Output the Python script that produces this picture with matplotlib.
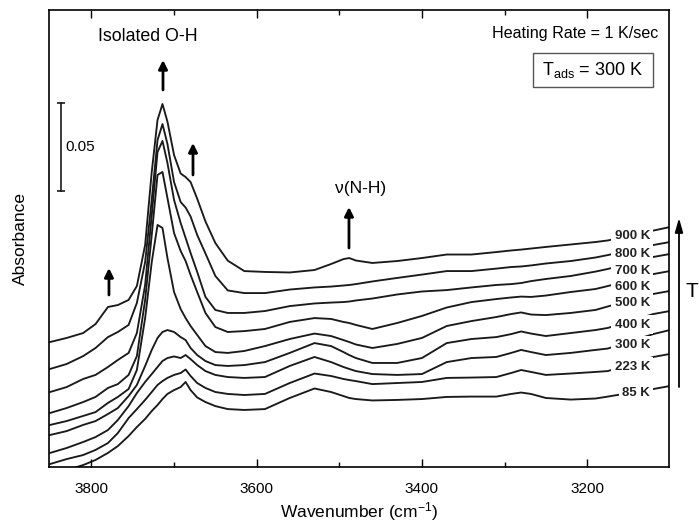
import matplotlib
matplotlib.use('Agg')
from matplotlib import pyplot as plt
from matplotlib import transforms
from matplotlib.patches import Rectangle

plt.rcParams['font.family'] = ['Liberation Sans', 'DejaVu Sans']
plt.rcParams['mathtext.fontset'] = 'custom'
plt.rcParams['mathtext.rm'] = 'Liberation Sans'
plt.rcParams['mathtext.it'] = 'Liberation Sans:italic'
plt.rcParams['mathtext.bf'] = 'Liberation Sans:bold'

# Spectra, absorbance in mAbs (curves are offset-stacked as in the figure)
wavenumber = [3850, 3830, 3810, 3795, 3780, 3768, 3755, 3745, 3735, 3727,
              3720, 3714, 3708, 3700, 3692, 3686, 3680, 3672, 3662, 3650,
              3635, 3615, 3590, 3560, 3530, 3510, 3495, 3488, 3480, 3460,
              3430, 3400, 3370, 3340, 3310, 3292, 3280, 3268, 3250, 3220,
              3190, 3175, 3120, 3100]

temps = ['85 K', '223 K', '300 K', '400 K', '500 K', '600 K', '700 K', '800 K', '900 K']

abs_85 = [-4.5, -1.7, 1.1, 4.0, 8.0, 11.9, 17.6, 22.7, 27.3, 31.8,
          35.2, 38.6, 41.5, 43.7, 45.4, 48.3, 43.7, 39.5, 36.9, 34.6,
          32.9, 32.4, 32.9, 39.2, 44.6, 42.6, 40.3, 39.2, 38.6, 37.8,
          38.1, 38.6, 39.8, 40.0, 40.0, 41.5, 42.3, 41.5, 39.2, 38.3,
          38.9, 40.0, 44.3, 46.0]
abs_223 = [1.7, 4.5, 6.8, 9.7, 13.6, 19.3, 27.8, 32.9, 38.1, 42.6,
           46.6, 48.8, 50.6, 52.3, 53.4, 55.4, 51.7, 47.7, 44.9, 42.6,
           41.5, 40.9, 41.5, 47.7, 53.1, 51.7, 50.0, 49.4, 48.8, 47.1,
           47.7, 48.3, 50.6, 50.8, 51.1, 53.4, 55.1, 54.0, 52.3, 53.1,
           54.0, 54.5, 62.5, 64.2]
abs_300 = [8.0, 10.8, 14.2, 17.0, 21.0, 26.7, 34.6, 42.0, 48.3, 52.8,
           56.8, 60.2, 61.9, 62.8, 61.9, 63.6, 61.3, 57.9, 54.5, 52.3,
           51.1, 50.6, 51.1, 57.4, 62.5, 59.6, 56.8, 55.7, 54.5, 52.8,
           52.3, 52.8, 59.6, 61.9, 62.5, 64.8, 66.5, 65.3, 63.6, 64.8,
           66.5, 67.3, 75.5, 77.8]
abs_400 = [18.2, 20.4, 23.9, 26.1, 30.1, 33.5, 40.3, 46.6, 57.4, 66.5,
           73.3, 76.7, 77.8, 76.7, 73.8, 72.1, 67.6, 63.6, 60.2, 57.9,
           57.4, 57.9, 59.6, 64.8, 70.4, 68.7, 65.3, 63.6, 61.9, 59.1,
           59.1, 61.9, 70.4, 72.7, 73.8, 75.5, 77.0, 75.8, 74.4, 76.1,
           77.8, 79.0, 86.9, 88.6]
abs_500 = [23.9, 26.1, 29.0, 31.2, 36.4, 39.8, 44.3, 55.1, 84.6, 116.4,
           137.5, 135.8, 118.7, 99.4, 89.7, 84.6, 80.1, 75.0, 68.7, 65.3,
           64.8, 65.9, 68.7, 72.7, 75.8, 74.4, 72.1, 71.0, 69.6, 67.6,
           69.9, 73.3, 80.1, 82.9, 85.2, 86.9, 87.8, 86.6, 86.3, 87.5,
           89.2, 91.2, 98.3, 100.0]
abs_600 = [30.7, 33.5, 36.9, 39.8, 44.9, 47.1, 52.3, 63.0, 94.9, 131.8,
           165.9, 167.6, 152.8, 132.9, 122.7, 117.0, 109.1, 99.4, 87.5, 79.5,
           76.7, 77.2, 78.4, 82.4, 84.6, 84.1, 82.4, 81.8, 80.7, 78.4,
           81.8, 85.8, 90.6, 93.7, 95.4, 96.3, 96.8, 96.6, 97.4, 99.4,
           101.1, 102.8, 109.6, 111.3]
abs_700 = [42.6, 45.4, 50.0, 52.3, 56.8, 60.8, 64.8, 76.1, 103.4, 143.1,
           178.9, 185.2, 172.7, 151.7, 138.6, 130.1, 121.6, 110.8, 96.6, 89.2,
           87.5, 87.5, 88.6, 91.4, 92.9, 93.4, 93.7, 94.0, 94.6, 95.7,
           98.0, 99.7, 100.5, 102.0, 103.4, 103.9, 104.5, 105.6, 106.8, 108.5,
           111.0, 112.5, 119.3, 121.0]
abs_800 = [55.7, 58.5, 63.0, 67.6, 73.8, 76.7, 80.7, 93.2, 116.4, 151.7,
           185.7, 194.8, 183.5, 161.9, 150.5, 147.4, 142.3, 131.8, 121.3, 108.5,
           100.3, 98.8, 98.8, 100.8, 102.0, 102.5, 103.1, 103.4, 103.9, 105.4,
           107.4, 109.3, 111.3, 111.3, 112.7, 113.6, 113.9, 114.5, 115.6, 117.0,
           119.0, 120.4, 126.1, 127.8]
abs_900 = [71.0, 73.3, 76.1, 81.2, 90.9, 92.0, 94.9, 102.8, 126.1, 167.6,
           197.1, 206.2, 196.2, 177.2, 166.7, 164.7, 161.9, 152.4, 139.5, 127.2,
           117.2, 111.3, 110.8, 110.5, 111.9, 115.3, 118.1, 118.7, 117.3, 115.9,
           117.0, 118.7, 120.7, 120.7, 122.1, 123.0, 123.5, 124.1, 125.0, 126.4,
           127.8, 128.7, 134.3, 136.3]

spectra = [abs_85, abs_223, abs_300, abs_400, abs_500,
           abs_600, abs_700, abs_800, abs_900]

# label placement (axes fraction) for the temperature tags on the right
label_y = [0.162, 0.219, 0.267, 0.311, 0.359, 0.394, 0.429, 0.466, 0.506]

fig = plt.figure(figsize=(6.99, 5.29), dpi=100)
ax = fig.add_axes([0.0705, 0.1172, 0.8866, 0.8639])

for vals in spectra:
    ax.plot(wavenumber, [v / 1000 for v in vals], color='#1a1a1a', lw=1.35,
            solid_joinstyle='round')

ax.set_xlim(3851, 3101)
ax.set_ylim(0, 0.2596)
ax.set_xticks([3800, 3600, 3400, 3200])
ax.set_xticks([3700, 3500, 3300], minor=True)
ax.set_yticks([])
ax.tick_params(axis='x', which='both', direction='in', top=True,
               labelsize=11, pad=11, width=1.0)
ax.tick_params(axis='x', which='major', length=6)
ax.tick_params(axis='x', which='minor', length=3.5)
for sp in ax.spines.values():
    sp.set_linewidth(1.2)

ax.set_xlabel('Wavenumber (cm$^{-1}$)', fontsize=12.5, labelpad=3)
ax.set_ylabel('Absorbance', fontsize=12.5)
ax.yaxis.set_label_coords(-0.034, 0.5)

# temperature labels with white backing so curves break around them
for name, y in zip(temps, label_y):
    ax.text(0.9693, y, name, transform=ax.transAxes, ha='right', va='center',
            fontsize=9.5, fontweight='bold', color='#222222',
            bbox=dict(facecolor='white', edgecolor='none', pad=2.5))

# scale bar 0.05 absorbance
blend = transforms.blended_transform_factory(ax.transAxes, ax.transData)
ax.plot([0.0184, 0.0184], [0.1568, 0.2068], transform=blend, color='#1a1a1a',
        lw=1.2, marker='_', markersize=6, mew=1.2)
ax.text(0.0253, 0.1818, '0.05', transform=blend, ha='left', va='center', fontsize=11)

# feature arrows
arrow_kw = dict(arrowstyle='-|>', color='black', lw=2.0, mutation_scale=13,
                shrinkA=0, shrinkB=0)
for x, y0, y1 in [(0.1835, 0.825, 0.8906), (0.2319, 0.639, 0.709),
                  (0.0963, 0.3764, 0.4354), (0.4836, 0.4792, 0.5689)]:
    ax.annotate('', xy=(x, y1), xytext=(x, y0), xycoords='axes fraction',
                textcoords='axes fraction', arrowprops=arrow_kw)

ax.text(0.159, 0.943, 'Isolated O-H', transform=ax.transAxes, ha='center',
        va='center', fontsize=12.8)
ax.text(0.5027, 0.6105, 'ν(N-H)', transform=ax.transAxes, ha='center',
        va='center', fontsize=12.5)
ax.text(0.983, 0.949, 'Heating Rate = 1 K/sec', transform=ax.transAxes,
        ha='right', va='center', fontsize=11.6)

ax.add_patch(Rectangle((0.7801, 0.8322), 0.1946, 0.0731, transform=ax.transAxes,
                       facecolor='white', edgecolor='#555555', lw=1.0))
ax.text(0.8774, 0.8687, r'T$_{\mathrm{ads}}$ = 300 K', transform=ax.transAxes,
        ha='center', va='center', fontsize=13)

# temperature direction arrow outside the axes
ax.annotate('', xy=(1.0161, 0.5449), xytext=(1.0161, 0.175), xycoords='axes fraction',
            textcoords='axes fraction', annotation_clip=False,
            arrowprops=dict(arrowstyle='-|>,head_length=0.6,head_width=0.17',
                            color='black', lw=1.3, mutation_scale=14,
                            shrinkA=0, shrinkB=0))
ax.text(1.0372, 0.383, 'T', transform=ax.transAxes, ha='center', va='center',
        fontsize=15)

fig.savefig('out.png', dpi=100)
